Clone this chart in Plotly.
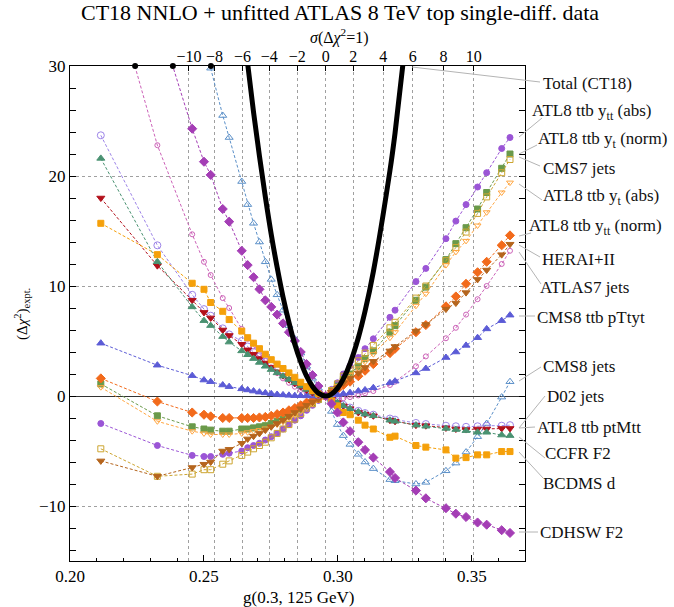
import plotly.graph_objects as go

# ---------------- data ----------------
g = [0.2115, 0.2326, 0.2456, 0.2500, 0.2525, 0.2570, 0.2594, 0.2641,
     0.2663, 0.2685, 0.2707, 0.2729, 0.2751, 0.2773, 0.2795, 0.2817, 0.2839, 0.2861,
     0.2883, 0.2905, 0.2927, 0.2954,
     0.2976, 0.2998, 0.3020, 0.3045, 0.3076, 0.3101, 0.3132, 0.3194, 0.3213, 0.3291,
     0.3328, 0.3403, 0.3440, 0.3478, 0.3521, 0.3555, 0.3611, 0.3642]

total_g = [0.2641, 0.2663, 0.2685, 0.2707, 0.2729, 0.2751, 0.2773, 0.2795, 0.2817, 0.2839,
           0.2861, 0.2883, 0.2905, 0.2927, 0.2954, 0.2976, 0.2998, 0.3020, 0.3045, 0.3076,
           0.3101, 0.3132, 0.3194, 0.3213, 0.3291]
total_chi2 = [34.9, 30.2, 25.8, 21.8, 18.1, 14.7, 11.7, 9.0, 6.7, 4.7,
              3.1, 1.8, 0.86, 0.26, 0.0, 0.17, 0.69, 1.55, 2.95, 5.3,
              7.7, 11.3, 20.5, 23.9, 40.5]

atl8_ytt_abs = [-2.5, -4.5, -5.4, -5.5, -5.5, -5.3, -5.2, -5.0,
                -4.7, -4.5, -4.3, -4.0, -3.7, -3.4, -3.0, -2.6, -2.2, -1.8, -1.3, -0.85, -0.4, 0.0,
                0.6, 1.2, 2.0, 2.75, 3.5, 4.3, 5.2, 7.15, 7.8, 10.4, 11.6, 14.3, 15.9, 17.4, 19.0, 20.3, 22.5, 23.5]
atl8_yt_norm = [1.1, -1.8, -2.8, -3.0, -3.1, -3.2, -3.2, -3.0,
                -3.0, -2.9, -2.8, -2.7, -2.5, -2.3, -2.1, -1.8, -1.5, -1.2, -0.9, -0.6, -0.3, 0.0,
                0.4, 0.9, 1.5, 2.0, 2.7, 3.4, 4.1, 5.8, 6.4, 8.7, 9.9, 12.4, 13.85, 15.3, 17.0, 18.5, 20.7, 22.0]
cms7_jets = [-4.8, -7.3, -7.1, -6.7, -6.7, -6.2, -5.9, -5.4,
             -5.1, -4.8, -4.5, -4.2, -3.8, -3.4, -3.0, -2.6, -2.1, -1.6, -1.1, -0.7, -0.3, 0.0,
             0.5, 1.1, 1.8, 2.4, 3.2, 3.9, 4.6, 6.2, 6.7, 8.9, 10.0, 12.3, 13.5, 14.9, 16.6, 18.1, 20.3, 21.5]
atl8_yt_abs = [0.8, -2.3, -3.2, -3.4, -3.5, -3.5, -3.5, -3.4,
               -3.3, -3.2, -3.1, -2.95, -2.8, -2.6, -2.35, -2.05, -1.75, -1.4, -1.05, -0.7, -0.35, 0.0,
               0.4, 0.9, 1.4, 1.9, 2.5, 3.1, 3.8, 5.3, 5.8, 8.2, 9.3, 11.9, 13.1, 14.1, 15.5, 16.7, 18.5, 19.4]
atl8_ytt_norm = [1.6, -0.5, -1.5, -1.7, -1.85, -2.0, -2.0, -2.0,
                 -2.0, -2.0, -1.95, -1.9, -1.8, -1.65, -1.5, -1.3, -1.1, -0.85, -0.6, -0.4, -0.2, 0.0,
                 0.3, 0.6, 1.0, 1.3, 1.8, 2.3, 2.9, 3.9, 4.3, 5.8, 6.45, 8.15, 9.05, 10.2, 11.25, 12.2, 13.7, 14.6]
hera = [-5.9, -7.3, -6.5, -6.2, -6.0, -5.0, -4.85, -4.3,
        -3.9, -3.65, -3.4, -3.1, -2.8, -2.5, -2.2, -1.85, -1.5, -1.15, -0.85, -0.55, -0.25, 0.0,
        0.35, 0.75, 1.2, 1.6, 2.1, 2.6, 3.15, 4.1, 4.5, 5.9, 6.5, 7.9, 8.45, 9.4, 10.6, 11.45, 12.85, 13.8]
atlas7_jets = [40.9, 22.8, 14.7, 12.2, 11.0, 8.9, 8.0, 6.1,
               5.2, 4.5, 3.8, 3.2, 2.6, 2.1, 1.6, 1.2, 0.85, 0.55, 0.3, 0.15, 0.05, 0.0,
               -0.15, -0.2, -0.2, -0.1, 0.05, 0.25, 0.45, 1.0, 1.3, 2.7, 3.6, 5.25, 6.2, 7.4, 8.8, 10.0, 12.0, 13.2]
cms8_ttb = [4.8, 2.8, 1.85, 1.45, 1.3, 1.0, 0.85, 0.65,
            0.55, 0.45, 0.35, 0.28, 0.2, 0.14, 0.1, 0.06, 0.03, 0.02, 0.01, 0.0, 0.0, 0.0,
            0.05, 0.1, 0.2, 0.3, 0.45, 0.55, 0.75, 1.2, 1.35, 2.1, 2.5, 3.5, 4.0, 4.6, 5.3, 6.1, 6.85, 7.35]
cms8_jets = [None, None, None, None, 29.8, 25.5, 23.5, 19.5,
             17.4, 15.7, 14.0, 12.2, 10.6, 9.2, 7.8, 6.4, 5.2, 3.9, 2.7, 1.6, 0.7, 0.0,
             -1.4, -2.6, -3.6, -4.4, -5.3, -6.0, -6.6, -7.6, -7.7, -8.0, -7.85, -6.8, -6.1, -5.1, -3.7, -2.5, -0.1, 1.3]
d02_jets = [23.7, 13.7, 9.2, 7.9, 7.3, 6.15, 5.6, 5.0,
            4.5, 4.0, 3.6, 3.15, 2.75, 2.35, 1.95, 1.6, 1.2, 0.9, 0.6, 0.3, 0.12, 0.0,
            -0.25, -0.5, -0.8, -1.05, -1.35, -1.55, -1.7, -2.05, -2.15, -2.45, -2.55, -2.7, -2.75, -2.8, -2.75, -2.7, -2.7, -2.65]
atl8_ptmtt = [18.0, 11.85, 8.7, 7.6, 7.1, 6.0, 5.5, 4.7,
              4.2, 3.8, 3.4, 3.0, 2.6, 2.2, 1.85, 1.5, 1.15, 0.85, 0.55, 0.3, 0.12, 0.0,
              -0.3, -0.6, -0.9, -1.15, -1.5, -1.65, -1.8, -2.2, -2.3, -2.65, -2.7, -2.9, -3.0, -3.05, -3.0, -3.0, -2.95, -2.95]
ccfr_f2 = [21.6, 12.2, 8.1, 6.85, 6.4, 5.4, 4.9, 4.1,
           3.75, 3.4, 3.05, 2.7, 2.4, 2.1, 1.8, 1.5, 1.2, 0.9, 0.6, 0.35, 0.15, 0.0,
           -0.3, -0.6, -0.9, -1.15, -1.45, -1.65, -1.8, -2.2, -2.3, -2.65, -2.75, -2.95, -3.05, -3.15, -3.3, -3.3, -3.55, -3.6]
bcdms_d = [15.7, 12.85, 10.25, 9.7, 8.5, 7.7, 6.95, 5.9,
           5.3, 4.8, 4.3, 3.8, 3.3, 2.9, 2.5, 2.1, 1.7, 1.25, 0.85, 0.5, 0.2, 0.0,
           -0.45, -0.9, -1.5, -1.7, -2.2, -2.65, -3.0, -3.75, -3.65, -4.5, -4.65, -4.9, -5.65, -5.6, -5.35, -5.35, -5.05, -5.05]
cdhsw_f2 = [None, 34.5, 24.3, 21.3, 20.1, 17.0, 15.85, 13.2,
            11.9, 10.8, 9.7, 8.7, 8.1, 7.4, 6.6, 5.8, 5.0, 4.0, 2.9, 1.9, 0.9, 0.0,
            -0.7, -1.5, -2.4, -3.2, -4.2, -4.9, -5.6, -6.9, -7.45, -8.6, -9.3, -10.2, -10.7, -11.0, -11.5, -11.7, -12.2, -12.45]

sigma_ticks = [-10, -8, -6, -4, -2, 0, 2, 4, 6, 8, 10]
sigma_tick_g = [0.2444, 0.2539, 0.2644, 0.2744, 0.2848, 0.2954, 0.3057, 0.3169, 0.3279, 0.3394, 0.3507]
clip_g = [0.2243, 0.2384, 0.2526]
clip_chi2 = [30, 30, 30]

x_ticks = [0.20, 0.25, 0.30, 0.35]
x_ticktext = ["0.20", "0.25", "0.30", "0.35"]
y_ticks = [-10, 0, 10, 20, 30]

# ---------------- styling ----------------
FONT = "Liberation Serif"
W, H = 674, 607
L, R, T, B = 70, 149, 66, 46
PW, PH = W - L - R, H - T - B

series = [
    ("ATL8 ttb y<sub>tt</sub> (abs)", atl8_ytt_abs, "#9b55d6", "circle", 6),
    ("ATL8 ttb y<sub>t</sub> (norm)", atl8_yt_norm, "#6a9a4a", "square", 6),
    ("CMS7 jets", cms7_jets, "#cda531", "square-open", 6),
    ("ATL8 ttb y<sub>t</sub> (abs)", atl8_yt_abs, "#ffa640", "triangle-down-open", 6),
    ("ATL8 ttb y<sub>tt</sub> (norm)", atl8_ytt_norm, "#f26a1b", "diamond", 7),
    ("HERAI+II", hera, "#b5651d", "triangle-down", 7),
    ("ATLAS7 jets", atlas7_jets, "#cc62b8", "circle-open", 5),
    ("CMS8 ttb pTtyt", cms8_ttb, "#5b5bd6", "triangle-up", 7),
    ("CMS8 jets", cms8_jets, "#5a8fc8", "triangle-up-open", 7),
    ("D02 jets", d02_jets, "#9d84e8", "circle-open", 7),
    ("ATL8 ttb ptMtt", atl8_ptmtt, "#b3101b", "triangle-down", 7),
    ("CCFR F2", ccfr_f2, "#4a9272", "triangle-up", 7),
    ("BCDMS d", bcdms_d, "#f5a00a", "square", 6),
    ("CDHSW F2", cdhsw_f2, "#a43db5", "diamond", 7),
]

fig = go.Figure()
for name, ys, col, sym, sz in series:
    fig.add_trace(go.Scatter(
        x=g, y=ys, mode="lines+markers", name=name,
        line=dict(color=col, width=1, dash="3px,2px"),
        marker=dict(symbol=sym, size=sz, color=col, line=dict(color=col, width=1)),
        connectgaps=False, showlegend=False,
    ))

fig.add_trace(go.Scatter(
    x=total_g, y=total_chi2, mode="lines", name="Total (CT18)",
    line=dict(color="black", width=5, shape="spline"), showlegend=False,
))
fig.add_trace(go.Scatter(
    x=clip_g, y=clip_chi2, mode="markers", xaxis="x2",
    marker=dict(color="black", size=6), cliponaxis=False, showlegend=False,
))

xr = [0.20, 0.3698]
yr = [-15, 30]
tickfont = dict(family=FONT, size=17, color="black")
toptickfont = dict(family=FONT, size=16, color="black")

fig.update_layout(
    width=W, height=H,
    margin=dict(l=L, r=R, t=T, b=B),
    paper_bgcolor="white", plot_bgcolor="white",
    xaxis=dict(range=xr, tickvals=x_ticks, ticktext=x_ticktext, ticks="inside",
               ticklen=6, tickcolor="black", tickfont=tickfont,
               minor=dict(dtick=0.01, tick0=0.20, ticks="inside", ticklen=3, tickcolor="black"),
               showline=True, linecolor="black", linewidth=1, mirror=True,
               showgrid=False, zeroline=False),
    xaxis2=dict(range=xr, overlaying="x", side="top", tickvals=sigma_tick_g,
                ticktext=[("\u2212" + str(-s)) if s < 0 else str(s) for s in sigma_ticks],
                ticks="inside", ticklen=5, tickcolor="black", tickfont=toptickfont,
                showgrid=True, gridcolor="#a0a0a0", griddash="dot", gridwidth=1,
                showline=False, zeroline=False),
    yaxis=dict(range=yr, tickvals=y_ticks, ticks="inside", ticklen=6, tickcolor="black",
               tickfont=tickfont,
               minor=dict(dtick=2, tick0=0, ticks="inside", ticklen=3, tickcolor="black"),
               showline=True, linecolor="black", linewidth=1, mirror="allticks",
               showgrid=True, gridcolor="#a0a0a0", griddash="dot", gridwidth=1,
               zeroline=True, zerolinecolor="#333333", zerolinewidth=1),
)


def px2paper(px, py):
    return (px - L) / PW, (H - B - py) / PH


annotations = []
shapes = []

tx, ty = px2paper(340, 13)
annotations.append(dict(text="CT18 NNLO + unfitted ATLAS 8 TeV top single-diff. data",
                        x=tx, y=ty, xref="paper", yref="paper", showarrow=False,
                        xanchor="center", yanchor="middle",
                        font=dict(family=FONT, size=22, color="black")))
tx, ty = px2paper(339, 36)
annotations.append(dict(text="<i>σ</i>(Δ<i>χ</i><sup>2</sup>=1)",
                        x=tx, y=ty, xref="paper", yref="paper", showarrow=False,
                        xanchor="center", yanchor="middle",
                        font=dict(family=FONT, size=16, color="black")))
tx, ty = px2paper(298, 597)
annotations.append(dict(text="g(0.3, 125 GeV)",
                        x=tx, y=ty, xref="paper", yref="paper", showarrow=False,
                        xanchor="center", yanchor="middle",
                        font=dict(family=FONT, size=17, color="black")))
tx, ty = px2paper(22, 314)
annotations.append(dict(text="(Δ<i>χ</i><sup>2</sup>)<sub>expt.</sub>",
                        x=tx, y=ty, xref="paper", yref="paper", showarrow=False,
                        textangle=-90, xanchor="center", yanchor="middle",
                        font=dict(family=FONT, size=15, color="black")))

# label text position (left x, centre y) and leader start / end in pixels
labels = [
    ("Total (CT18)", 541, 83, (412, 67), (540, 82)),
    ("ATL8 ttb y<sub>tt</sub> (abs)", 530, 112, (519, 137), (542, 118)),
    ("ATL8 ttb y<sub>t</sub> (norm)", 536, 140, (519, 154), (537, 145)),
    ("CMS7 jets", 541, 168, (519, 157), (540, 166)),
    ("ATL8 ttb y<sub>t</sub> (abs)", 541, 197, (519, 184), (542, 200)),
    ("ATL8 ttb y<sub>tt</sub> (norm)", 527, 227, (519, 236), (531, 233)),
    ("HERAI+II", 540, 259, (519, 245), (540, 257)),
    ("ATLAS7 jets", 538, 287, (519, 252), (541, 284)),
    ("CMS8 ttb pTtyt", 535, 317, (519, 316), (535, 316)),
    ("CMS8 jets", 541, 366, (519, 381), (541, 367)),
    ("D02 jets", 545, 396, (519, 428), (545, 396)),
    ("ATL8 ttb ptMtt", 535, 427, (519, 428), (535, 427)),
    ("CCFR F2", 543, 454, (519, 437), (545, 458)),
    ("BCDMS d", 541, 483, (519, 452), (543, 478)),
    ("CDHSW F2", 538, 532, (519, 532), (538, 532)),
]
for text, lx, ly, (sx, sy), (ex, ey) in labels:
    ax_, ay_ = px2paper(lx, ly)
    annotations.append(dict(text=text, x=ax_, y=ay_, xref="paper", yref="paper",
                            showarrow=False, xanchor="left", yanchor="middle",
                            font=dict(family=FONT, size=17, color="#111111")))
    x0, y0 = px2paper(sx, sy)
    x1, y1 = px2paper(ex, ey)
    shapes.append(dict(type="line", xref="paper", yref="paper", x0=x0, y0=y0, x1=x1, y1=y1,
                       line=dict(color="#b4b4b4", width=1), layer="above"))

fig.update_layout(annotations=annotations, shapes=shapes)
fig.write_html("out.html")
